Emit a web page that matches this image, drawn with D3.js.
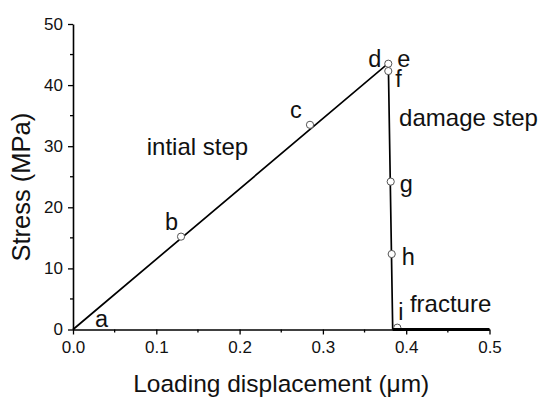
<!DOCTYPE html>
<html>
<head>
<meta charset="utf-8">
<script src="https://cdn.jsdelivr.net/npm/d3@7"></script>
<style>
  body { margin: 0; background: #fff; }
  svg { display: block; font-family: "Liberation Sans", Arial, sans-serif; }
</style>
</head>
<body>
<svg id="chart"></svg>
<script>
// stress-displacement curve (MPa vs um)
const curveX = [0, 0.378, 0.3787, 0.3838]
const curveY = [0, 43.5, 42.3, 0]
// fracture plateau
const fractureX = [0.3838, 0.5]
const fractureY = [0, 0]
// open circle markers b, c, d/e, f, g, h, i
const markerX = [0.1297, 0.2845, 0.3785, 0.3785, 0.3814, 0.3826, 0.3893]
const markerY = [15.2, 33.5, 43.5, 42.3, 24.2, 12.35, 0.3]
// stage letters and the point each belongs to
const letters = ['a', 'b', 'c', 'd', 'e', 'f', 'g', 'h', 'i']
const letterX = [0, 0.1297, 0.2845, 0.3785, 0.3785, 0.3785, 0.3814, 0.3826, 0.3893]
const letterY = [0, 15.2, 33.5, 43.5, 43.5, 42.3, 24.2, 12.35, 0.3]
// step captions
const steps = ['intial step', 'damage step', 'fracture']
const stepX = [0.0885, 0.3915, 0.4045]
const stepY = [28.5, 33.3, 2.9]

const xTicks = [0, 0.1, 0.2, 0.3, 0.4, 0.5]
const yTicks = [0, 10, 20, 30, 40, 50]

const width = 550
const height = 408
const margin = { left: 73, right: 60.5, top: 24, bottom: 78.5 }

const svg = d3.select('#chart').attr('width', width).attr('height', height)

const scX = d3.scaleLinear().domain([0, 0.5]).range([margin.left, width - margin.right])
const scY = d3.scaleLinear().domain([0, 50]).range([height - margin.bottom, margin.top])

// clip so marker i sits half under the axis
svg.append('clipPath').attr('id', 'plot')
  .append('rect')
  .attr('x', margin.left).attr('y', margin.top - 10)
  .attr('width', width - margin.left - margin.right + 10)
  .attr('height', height - margin.top - margin.bottom + 10)

// minor ticks
const minorX = d3.range(0.05, 0.5, 0.1)
const minorY = d3.range(5, 50, 10)

function drawAxes () {
  const axisX = d3.axisBottom(scX).tickValues(xTicks).tickFormat(d3.format('.1f'))
    .tickSizeInner(5).tickSizeOuter(0).tickPadding(6.5)
  const axisY = d3.axisLeft(scY).tickValues(yTicks).tickFormat(d3.format('d'))
    .tickSizeInner(5).tickSizeOuter(0).tickPadding(5)

  const gx = svg.append('g')
    .attr('transform', `translate(0, ${scY(0)})`)
    .call(axisX)
  gx.append('g').selectAll('line').data(minorX).enter().append('line')
    .attr('x1', d => scX(d)).attr('x2', d => scX(d))
    .attr('y1', 0).attr('y2', 3).attr('stroke', '#000').attr('stroke-width', 1.3)

  const gy = svg.append('g')
    .attr('transform', `translate(${scX(0)}, 0)`)
    .call(axisY)
  gy.append('g').selectAll('line').data(minorY).enter().append('line')
    .attr('y1', d => scY(d)).attr('y2', d => scY(d))
    .attr('x1', 0).attr('x2', -3).attr('stroke', '#000').attr('stroke-width', 1.3)

  svg.selectAll('.domain').attr('stroke-width', 1.6)
  svg.selectAll('.tick line').attr('stroke-width', 1.3)
  svg.selectAll('.tick text').attr('font-size', 17).attr('fill', '#111')
    .attr('font-family', '"Liberation Sans", Arial, sans-serif')

  svg.append('text')
    .attr('x', (scX(0) + scX(0.5)) / 2)
    .attr('y', 392)
    .attr('text-anchor', 'middle')
    .attr('font-size', 24.5)
    .attr('fill', '#111')
    .text('Loading displacement (\u03bcm)')

  svg.append('text')
    .attr('transform', `translate(30, ${scY(23.3)}) rotate(-90)`)
    .attr('text-anchor', 'middle')
    .attr('font-size', 25.5)
    .attr('fill', '#111')
    .text('Stress (MPa)')
}

function drawCurve () {
  const line = d3.line().x(d => scX(d[0])).y(d => scY(d[1]))

  svg.append('path')
    .datum(d3.zip(curveX, curveY))
    .attr('d', line)
    .attr('fill', 'none')
    .attr('stroke', '#000')
    .attr('stroke-width', 1.7)

  svg.append('g').attr('clip-path', 'url(#plot)')
    .selectAll('circle')
    .data(d3.zip(markerX, markerY))
    .enter()
    .append('circle')
    .attr('cx', d => scX(d[0]))
    .attr('cy', d => scY(d[1]))
    .attr('r', 3.6)
    .attr('fill', '#fff')
    .attr('stroke', '#555')
    .attr('stroke-width', 1)

  svg.append('path')
    .datum(d3.zip(fractureX, fractureY))
    .attr('d', line)
    .attr('fill', 'none')
    .attr('stroke', '#000')
    .attr('stroke-width', 3)
}

// pixel offsets of each letter from its point
const letterOffset = {
  a: [22, -3], b: [-16, -7], c: [-20, -7], d: [-20, 3.5], e: [9, 3],
  f: [7, 16], g: [9, 10], h: [10, 11], i: [1, -8]
}

function drawLabels () {
  svg.append('g').selectAll('text')
    .data(letters)
    .enter()
    .append('text')
    .attr('x', (d, i) => scX(letterX[i]) + letterOffset[d][0])
    .attr('y', (d, i) => scY(letterY[i]) + letterOffset[d][1])
    .attr('font-size', 23.5)
    .attr('fill', '#111')
    .text(d => d)

  svg.append('g').selectAll('text')
    .data(steps)
    .enter()
    .append('text')
    .attr('x', (d, i) => scX(stepX[i]))
    .attr('y', (d, i) => scY(stepY[i]))
    .attr('font-size', 24)
    .attr('fill', '#111')
    .text(d => d)
}

drawAxes()
drawCurve()
drawLabels()
</script>
</body>
</html>
